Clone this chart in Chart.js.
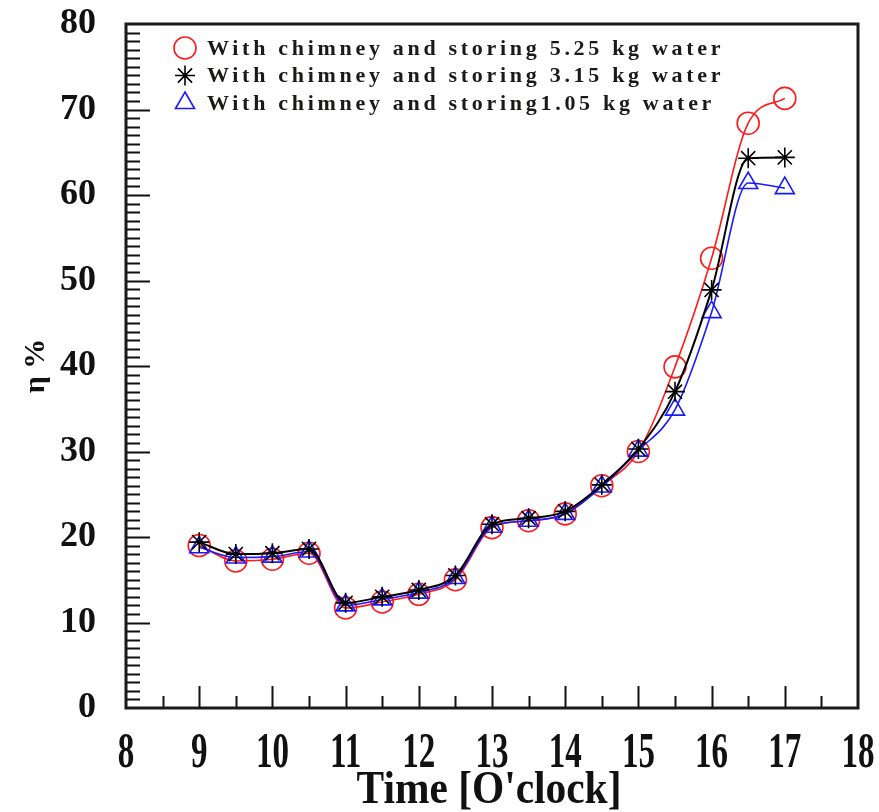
<!DOCTYPE html>
<html>
<head>
<meta charset="utf-8">
<script src="https://cdn.jsdelivr.net/npm/chart.js@4/dist/chart.umd.min.js"></script>
<style>
  html, body { margin: 0; padding: 0; background: #fff; }
  #wrap { width: 879px; height: 812px; }
</style>
</head>
<body>
<div id="wrap"><canvas id="eff" width="879" height="812"></canvas></div>
<script>
// Time of day (hours) and collector efficiency (%) for three stored water masses
const hours = [9, 9.5, 10, 10.5, 11, 11.5, 12, 12.5, 13, 13.5, 14, 14.5, 15, 15.5, 16, 16.5, 17];
const eta525 = [19.0, 17.2, 17.4, 18.1, 11.7, 12.4, 13.3, 15.0, 21.1, 21.9, 22.7, 26.0, 30.0, 39.9, 52.6, 68.4, 71.3];
const eta315 = [19.4, 18.0, 18.1, 18.6, 12.3, 13.0, 13.8, 15.5, 21.5, 22.2, 23.0, 26.1, 30.3, 37.0, 48.9, 64.3, 64.4];
const eta105 = [18.8, 17.6, 17.7, 18.3, 12.0, 12.7, 13.5, 15.2, 21.2, 21.9, 22.7, 25.9, 30.1, 34.9, 46.3, 61.4, 60.8];

const seriesLabels = [
  'With chimney and storing 5.25 kg water',
  'With chimney and storing 3.15 kg water',
  'With chimney and storing1.05 kg water'
];
const timeTicks = [8, 9, 10, 11, 12, 13, 14, 15, 16, 17, 18];
const etaTicks = [0, 10, 20, 30, 40, 50, 60, 70, 80];
const xTitle = 'Time [O\'clock]';
const yTitle = '\u03B7 %';

const toPoints = ys => hours.map((h, i) => ({ x: h, y: ys[i] }));
const SERIF = '"Liberation Serif", "Times New Roman", serif';

// Inward tick marks and the plot frame
const frameTicks = {
  id: 'frameTicks',
  beforeDatasetsDraw(chart) {
    const { ctx, chartArea: a, scales: { x, y } } = chart;
    ctx.save();
    ctx.strokeStyle = '#111';
    ctx.lineWidth = 2;
    ctx.beginPath();
    for (let v = etaTicks[0] + 1; v < etaTicks[etaTicks.length - 1]; v++) {
      const py = Math.round(y.getPixelForValue(v)) + 0.5;
      const len = v % 10 === 0 ? 24 : 14;
      ctx.moveTo(a.left, py);
      ctx.lineTo(a.left + len, py);
    }
    for (let v = timeTicks[0] + 0.5; v < timeTicks[timeTicks.length - 1]; v += 0.5) {
      const px = Math.round(x.getPixelForValue(v)) + 0.5;
      const len = Number.isInteger(v) ? 22 : 12;
      ctx.moveTo(px, a.bottom);
      ctx.lineTo(px, a.bottom - len);
    }
    ctx.stroke();
    ctx.lineWidth = 3;
    ctx.strokeStyle = '#1a1a1a';
    ctx.strokeRect(a.left, a.top, a.right - a.left, a.bottom - a.top);
    ctx.restore();
  }
};

// Narrow serif tick labels and title under the time axis
const timeAxisText = {
  id: 'timeAxisText',
  afterDraw(chart) {
    const { ctx, chartArea: a, scales: { x } } = chart;
    ctx.save();
    ctx.fillStyle = '#111';
    ctx.textAlign = 'center';
    ctx.textBaseline = 'middle';
    ctx.font = 'bold 50px ' + SERIF;
    timeTicks.forEach(t => {
      const px = x.getPixelForValue(t);
      ctx.save();
      ctx.translate(px, a.bottom + 46);
      ctx.scale(0.66, 1);
      ctx.fillText(String(t), 0, 0);
      ctx.restore();
    });
    ctx.font = 'bold 46px ' + SERIF;
    ctx.save();
    ctx.translate((a.left + a.right) / 2 - 3, a.bottom + 83);
    ctx.scale(0.9, 1);
    ctx.fillText(xTitle, 0, 0);
    ctx.restore();
    ctx.restore();
  }
};

// Legend inside the plot, upper left
const innerLegend = {
  id: 'innerLegend',
  afterDatasetsDraw(chart) {
    const { ctx, chartArea: a } = chart;
    ctx.save();
    ctx.font = 'bold 22px ' + SERIF;
    ctx.letterSpacing = '3.7px';
    ctx.textAlign = 'left';
    ctx.textBaseline = 'middle';
    chart.data.datasets.forEach((ds, i) => {
      const cy = a.top + 24 + i * 27.5;
      const cx = a.left + 59;
      ctx.strokeStyle = ds.borderColor;
      ctx.fillStyle = 'rgba(0,0,0,0)';
      ctx.lineWidth = ds.pointBorderWidth;
      Chart.helpers.drawPoint(ctx, {
        pointStyle: ds.pointStyle, radius: ds.pointRadius,
        borderWidth: ds.pointBorderWidth, rotation: 0
      }, cx, cy);
      ctx.fillStyle = '#1c1a18';
      ctx.fillText(ds.label, cx + 22, cy + 1);
    });
    ctx.restore();
  }
};

const common = {
  fill: false,
  cubicInterpolationMode: 'monotone',
  pointBackgroundColor: 'rgba(0,0,0,0)',
  pointBorderWidth: 1.6,
  borderWidth: 1.6
};

new Chart(document.getElementById('eff'), {
  type: 'line',
  data: {
    datasets: [
      Object.assign({}, common, {
        label: seriesLabels[0], data: toPoints(eta525),
        borderColor: '#ff1a1a', pointStyle: 'circle', pointRadius: 11, order: 3
      }),
      Object.assign({}, common, {
        label: seriesLabels[1], data: toPoints(eta315),
        borderColor: '#000000', pointStyle: 'star', pointRadius: 10, borderWidth: 2, order: 1
      }),
      Object.assign({}, common, {
        label: seriesLabels[2], data: toPoints(eta105),
        borderColor: '#1a1aff', pointStyle: 'triangle', pointRadius: 11, order: 2
      })
    ]
  },
  options: {
    responsive: false,
    animation: false,
    layout: { padding: { top: 24, right: 21, left: 0, bottom: 0 } },
    plugins: { legend: { display: false }, tooltip: { enabled: false } },
    scales: {
      x: {
        type: 'linear', min: 8, max: 18,
        grid: { display: false },
        border: { display: false },
        ticks: { display: false, stepSize: 1 },
        afterFit: s => { s.height = 104; s.paddingLeft = 0; s.paddingRight = 0; }
      },
      y: {
        type: 'linear', min: 0, max: 80,
        grid: { display: false, drawTicks: false },
        border: { display: false },
        afterBuildTicks: s => { s.ticks = etaTicks.map(v => ({ value: v })); },
        ticks: {
          padding: 30, color: '#111',
          font: { family: SERIF, size: 36, weight: 'bold' }
        },
        title: {
          display: true, text: yTitle, color: '#111',
          font: { family: SERIF, size: 30, weight: 'bold' },
          padding: { top: 18, bottom: 0 }
        },
        afterFit: s => { s.width = 126; s.paddingTop = 0; s.paddingBottom = 0; }
      }
    }
  },
  plugins: [frameTicks, timeAxisText, innerLegend]
});
</script>
</body>
</html>
